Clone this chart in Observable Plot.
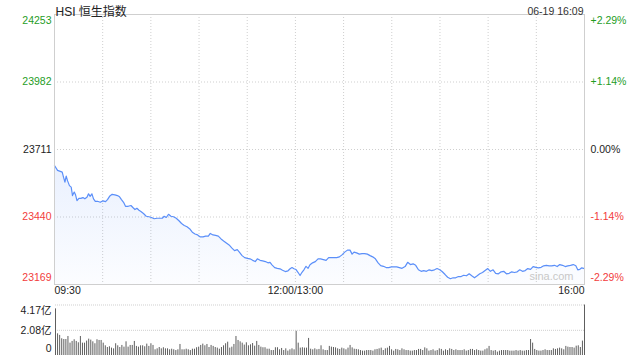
<!DOCTYPE html>
<html><head><meta charset="utf-8">
<script src="https://cdn.jsdelivr.net/npm/d3@7"></script>
<script src="https://cdn.jsdelivr.net/npm/@observablehq/plot@0.6"></script>
<style>
html,body{margin:0;padding:0;background:#fff;}
#chart{position:relative;width:640px;height:360px;overflow:hidden;}
#chart svg{display:block;}
</style></head><body><div id="chart"></div>
<script>
const title = "HSI 恒生指数";
const stamp = "06-19 16:09";
const watermark = "sina.com";
const prevClose = 23711;
const priceTicks = [24253, 23982, 23711, 23440, 23169];
const pctLabels = ["+2.29%", "+1.14%", "0.00%", "-1.14%", "-2.29%"];
const gridMinutes = [30, 60, 90, 120, 150, 180, 210, 240, 270, 300];
const timeTickMinutes = [0, 150, 330];
const timeTickLabels = ["09:30", "12:00/13:00", "16:00"];

// trading minutes since 09:30 (lunch break removed)
const minutes = [
  0, 1.9, 3.6, 4.8, 5.6, 6.5, 7.3, 8.1, 9.3, 10.4,
  11.2, 12.3, 13.1, 14, 15.2, 16.4, 17.7, 18.9, 20.2, 21.2,
  22.2, 23.3, 24.3, 25.4, 26.8, 28.5, 30.2, 31.8, 33, 34.3,
  35.9, 37.6, 39.2, 40.5, 41.7, 43, 44.2, 45.9, 47.6, 48.8,
  50.1, 51.3, 52.6, 53.8, 55.4, 57.1, 58.8, 60.4, 62.1, 63.8,
  65.4, 67.1, 68.3, 69.6, 71, 72.5, 74.1, 75.8, 77.5, 79.1,
  80.8, 82.5, 84.1, 85.8, 87.5, 89.1, 90.8, 92.5, 94.1, 95.8,
  97, 98.7, 100.3, 102, 103.7, 105.3, 107, 108.7, 110.5, 112.1,
  113.8, 115.1, 116.8, 118.4, 120.1, 121.7, 123.4, 125, 126.3, 128,
  129.6, 131.3, 132.9, 134.2, 135.4, 137.1, 138.7, 140.4, 142, 143.7,
  145.4, 146.7, 147.9, 149.1, 150.4, 151.6, 152.9, 154.1, 155.4, 156.6,
  157.9, 159.1, 160.7, 162.4, 164.1, 165.7, 167.4, 169.1, 170.7, 172.4,
  174.1, 175.7, 177.4, 179, 180.7, 182.4, 184, 185.3, 186.5, 188.1,
  189.8, 191.5, 193.1, 194.8, 196.5, 198.1, 199.8, 201.5, 203.1, 204.8,
  206.5, 208.1, 209.8, 211.4, 213.1, 214.7, 216.4, 218.3, 219.9, 221.6,
  223.3, 224.9, 226.6, 228.3, 229.9, 231.6, 233.3, 234.9, 236.6, 238.2,
  239.9, 241.5, 243.2, 244.8, 246.5, 248.2, 249.8, 251.5, 253.2, 254.8,
  256.5, 258.2, 259.8, 261.5, 263.2, 264.8, 266.5, 268.1, 269.8, 271.4,
  273.1, 274.7, 276.4, 278.1, 279.7, 281.4, 283.1, 284.7, 286.4, 288.1,
  289.7, 291.4, 293.1, 294.7, 296.4, 298, 299.7, 301.3, 303, 304.6,
  306.3, 308, 309.6, 311.3, 313, 314.6, 316.3, 318, 319.6, 321.3,
  323, 324.6, 325.8, 327.1, 328.3, 330
];
const prices = [
  23647, 23627, 23623, 23620, 23600, 23580, 23604, 23586, 23566, 23560,
  23526, 23540, 23529, 23506, 23515, 23515, 23518, 23513, 23519, 23533,
  23523, 23533, 23513, 23503, 23503, 23499, 23505, 23502, 23510, 23523,
  23531, 23529, 23526, 23521, 23510, 23499, 23483, 23483, 23486, 23478,
  23470, 23475, 23467, 23462, 23454, 23443, 23441, 23438, 23433, 23435,
  23435, 23435, 23443, 23438, 23451, 23443, 23441, 23435, 23425, 23414,
  23406, 23401, 23393, 23379, 23372, 23368, 23360, 23360, 23363, 23363,
  23374, 23368, 23366, 23363, 23352, 23344, 23336, 23328, 23315, 23305,
  23309, 23299, 23285, 23277, 23274, 23272, 23266, 23261, 23272, 23266,
  23264, 23261, 23256, 23258, 23248, 23237, 23234, 23232, 23226, 23221,
  23224, 23232, 23237, 23232, 23229, 23218, 23205, 23218, 23229, 23242,
  23234, 23248, 23256, 23261, 23272, 23272, 23269, 23266, 23277, 23277,
  23277, 23277, 23280, 23288, 23299, 23307, 23307, 23291, 23299, 23296,
  23291, 23293, 23293, 23291, 23285, 23280, 23272, 23256, 23245, 23242,
  23237, 23237, 23240, 23240, 23240, 23237, 23234, 23241, 23258, 23249,
  23252, 23246, 23228, 23222, 23225, 23222, 23228, 23225, 23228, 23233,
  23228, 23220, 23209, 23198, 23192, 23196, 23196, 23201, 23201, 23206,
  23204, 23212, 23204, 23196, 23204, 23212, 23217, 23225, 23233, 23222,
  23228, 23214, 23212, 23220, 23222, 23212, 23214, 23220, 23217, 23220,
  23228, 23222, 23225, 23233, 23230, 23241, 23238, 23236, 23238, 23244,
  23246, 23244, 23244, 23246, 23241, 23249, 23246, 23241, 23244, 23246,
  23249, 23244, 23228, 23230, 23236, 23233
];

const volTicks = [4.17, 2.08, 0];
const volLabels = ["4.17亿", "2.08亿", "0"];
// turnover per sample, 亿
const volumes = [
  3.85, 1.79, 1.66, 1.38, 1.32, 1.32, 1.57, 1.02, 1.16, 1.30,
  1.16, 1.05, 1.57, 1.02, 1.02, 1.19, 1.35, 1.27, 1.13, 0.97,
  1.30, 1.24, 1.24, 1.02, 0.80, 0.66, 0.72, 0.61, 0.55, 0.97,
  0.80, 0.66, 0.83, 0.69, 1.13, 0.69, 0.83, 0.83, 1.16, 0.75,
  0.69, 0.80, 0.80, 0.72, 0.94, 0.75, 0.97, 0.83, 0.47, 0.55,
  0.66, 0.55, 0.64, 0.55, 0.55, 0.47, 0.52, 0.47, 0.41, 0.47,
  0.91, 0.47, 0.47, 0.52, 0.47, 0.41, 0.52, 0.52, 0.64, 0.69,
  0.83, 0.94, 0.80, 0.91, 0.66, 0.83, 0.75, 0.66, 0.61, 0.52,
  0.66, 0.80, 0.97, 1.10, 0.61, 0.69, 0.91, 1.57, 1.24, 1.13,
  1.02, 0.86, 1.05, 0.80, 0.88, 0.99, 0.77, 1.16, 0.83, 0.69,
  0.64, 0.64, 0.52, 0.52, 0.41, 0.41, 0.64, 0.64, 0.47, 0.58,
  0.41, 0.55, 0.36, 0.47, 0.55, 0.47, 2.00, 1.02, 0.61, 0.64,
  0.61, 0.61, 1.41, 0.52, 0.47, 0.55, 0.47, 0.50, 0.80, 0.47,
  0.41, 0.41, 0.75, 0.69, 0.66, 0.63, 0.55, 0.50, 0.61, 0.55,
  0.47, 0.61, 0.83, 0.63, 0.52, 0.50, 0.47, 0.41, 0.36, 0.36,
  0.41, 0.41, 0.41, 0.36, 0.47, 0.50, 0.55, 0.61, 0.41, 0.55,
  0.61, 0.75, 0.47, 0.36, 0.50, 0.47, 0.41, 0.55, 0.47, 0.41,
  0.41, 0.36, 0.36, 0.41, 0.41, 0.50, 0.50, 0.41, 0.63, 0.55,
  0.36, 0.41, 0.47, 0.36, 0.41, 0.55, 0.50, 0.36, 0.47, 0.41,
  0.55, 0.50, 0.41, 0.47, 0.41, 0.41, 0.41, 0.47, 0.36, 0.41,
  0.50, 0.50, 0.41, 0.47, 0.41, 0.36, 0.36, 0.47, 0.55, 0.75,
  0.41, 0.36, 0.41, 0.28, 0.36, 0.41, 0.41, 0.41, 0.41, 0.36,
  0.36, 0.36, 0.41, 0.36, 0.41, 0.36, 0.36, 0.41, 0.41, 1.32,
  1.02, 0.50, 0.41, 0.36, 0.36, 0.41, 0.47, 0.41, 0.41, 0.41,
  0.55, 0.50, 0.55, 0.61, 0.55, 0.47, 0.75, 0.69, 0.66, 0.66,
  0.61, 0.77, 0.80, 0.66, 1.19, 4.17
];

if (minutes.length !== prices.length) throw new Error("length mismatch " + minutes.length + " vs " + prices.length);

const FONT = "Arial, 'Liberation Sans', Helvetica, 'Noto Sans CJK SC', sans-serif";
const UP = "#1f9d1f", DOWN = "#f23c3c", FLAT = "#222";
const GRID = "#cfcfcf";
const tickColor = v => v > prevClose ? UP : v < prevClose ? DOWN : FLAT;

const pts = minutes.map((m, i) => ({m, p: prices[i]}));
const lo = priceTicks[priceTicks.length - 1];
const rows = priceTicks.map((v, i) => ({v, label: String(v), pct: pctLabels[i], color: tickColor(v), pos: i === 0 ? "top" : i === priceTicks.length - 1 ? "bottom" : "mid"}));
const shift = {top: 6, mid: 0, bottom: -7};

const gradient = () => {
  const defs = d3.create("svg:defs");
  const g = defs.append("linearGradient").attr("id", "areaFill")
    .attr("x1", 0).attr("y1", 0).attr("x2", 0).attr("y2", 1);
  g.append("stop").attr("offset", "0%").attr("stop-color", "#5b8ff9").attr("stop-opacity", 0.13);
  g.append("stop").attr("offset", "100%").attr("stop-color", "#5b8ff9").attr("stop-opacity", 0.02);
  return defs.node();
};

const labelMarks = [];
for (const pos of ["top", "mid", "bottom"]) {
  const sub = rows.filter(r => r.pos === pos);
  labelMarks.push(Plot.text(sub, {y: d => d.v, text: d => d.label, fill: d => d.color, frameAnchor: "left", textAnchor: "end", dx: -3, dy: shift[pos]}));
  labelMarks.push(Plot.text(sub, {y: d => d.v, text: d => d.pct, fill: d => d.color, frameAnchor: "right", textAnchor: "start", dx: 6, dy: shift[pos]}));
}
const anchors = ["start", "middle", "end"];
const timeMarks = timeTickMinutes.map((m, i) =>
  Plot.text([m], {x: d => d, text: () => timeTickLabels[i], frameAnchor: "bottom", textAnchor: anchors[i], dy: 9, fill: "#222"}));

const pricePlot = Plot.plot({
  width: 640, height: 300,
  marginTop: 14, marginBottom: 16, marginLeft: 54, marginRight: 56,
  x: {domain: [0, 330], axis: null},
  y: {domain: [lo, priceTicks[0]], axis: null},
  color: {type: "identity"},
  style: {fontFamily: FONT, fontSize: "10.5px", background: "#fff", overflow: "visible"},
  marks: [
    gradient,
    Plot.ruleX(gridMinutes, {x: d => d, stroke: GRID, strokeDasharray: "1,2"}),
    Plot.ruleY(priceTicks.slice(1, -1), {y: d => d, stroke: GRID, strokeDasharray: "1,2"}),
    Plot.areaY(pts, {x: "m", y1: () => lo, y2: "p", fill: "url(#areaFill)"}),
    Plot.line(pts, {x: "m", y: "p", stroke: "#5b8ff9", strokeWidth: 1.2}),
    Plot.frame({stroke: "#cfcfcf"}),
    ...labelMarks,
    ...timeMarks,
    Plot.text([title], {text: d => d, frameAnchor: "top-left", textAnchor: "start", dx: 1, dy: -7, fontSize: 12, fill: "#222"}),
    Plot.text([stamp], {text: d => d, frameAnchor: "top-right", textAnchor: "end", dx: -1, dy: -7, fill: "#333"}),
    Plot.text([watermark], {text: d => d, frameAnchor: "bottom-right", textAnchor: "end", dx: -11, dy: -5, fill: "#c8c8c8", fontSize: 11})
  ]
});

const vrows = volTicks.map((v, i) => ({v, label: volLabels[i], pos: i === 0 ? "top" : i === volTicks.length - 1 ? "bottom" : "mid"}));
const vLabelMarks = ["top", "mid", "bottom"].map(pos =>
  Plot.text(vrows.filter(r => r.pos === pos), {y: d => d.v, text: d => d.label, frameAnchor: "left", textAnchor: "end", dx: -4, dy: shift[pos], fill: "#222"}));

const volPlot = Plot.plot({
  width: 640, height: 60,
  marginTop: 4.5, marginBottom: 5, marginLeft: 55, marginRight: 56,
  x: {domain: [0, volumes.length - 1], axis: null},
  y: {domain: [0, volTicks[0]], axis: null},
  style: {fontFamily: FONT, fontSize: "10.5px", background: "#fff", overflow: "visible"},
  marks: [
    Plot.ruleY(volTicks.slice(0, 2), {y: d => d, stroke: GRID, strokeDasharray: "1,1"}),
    Plot.ruleX(volumes, {x: (d, i) => i, y1: () => 0, y2: d => d, stroke: "#5e5e5e", strokeWidth: 1}),
    ...vLabelMarks
  ]
});

const root = document.getElementById("chart");
root.appendChild(pricePlot);
root.appendChild(volPlot);
</script>
</body></html>
